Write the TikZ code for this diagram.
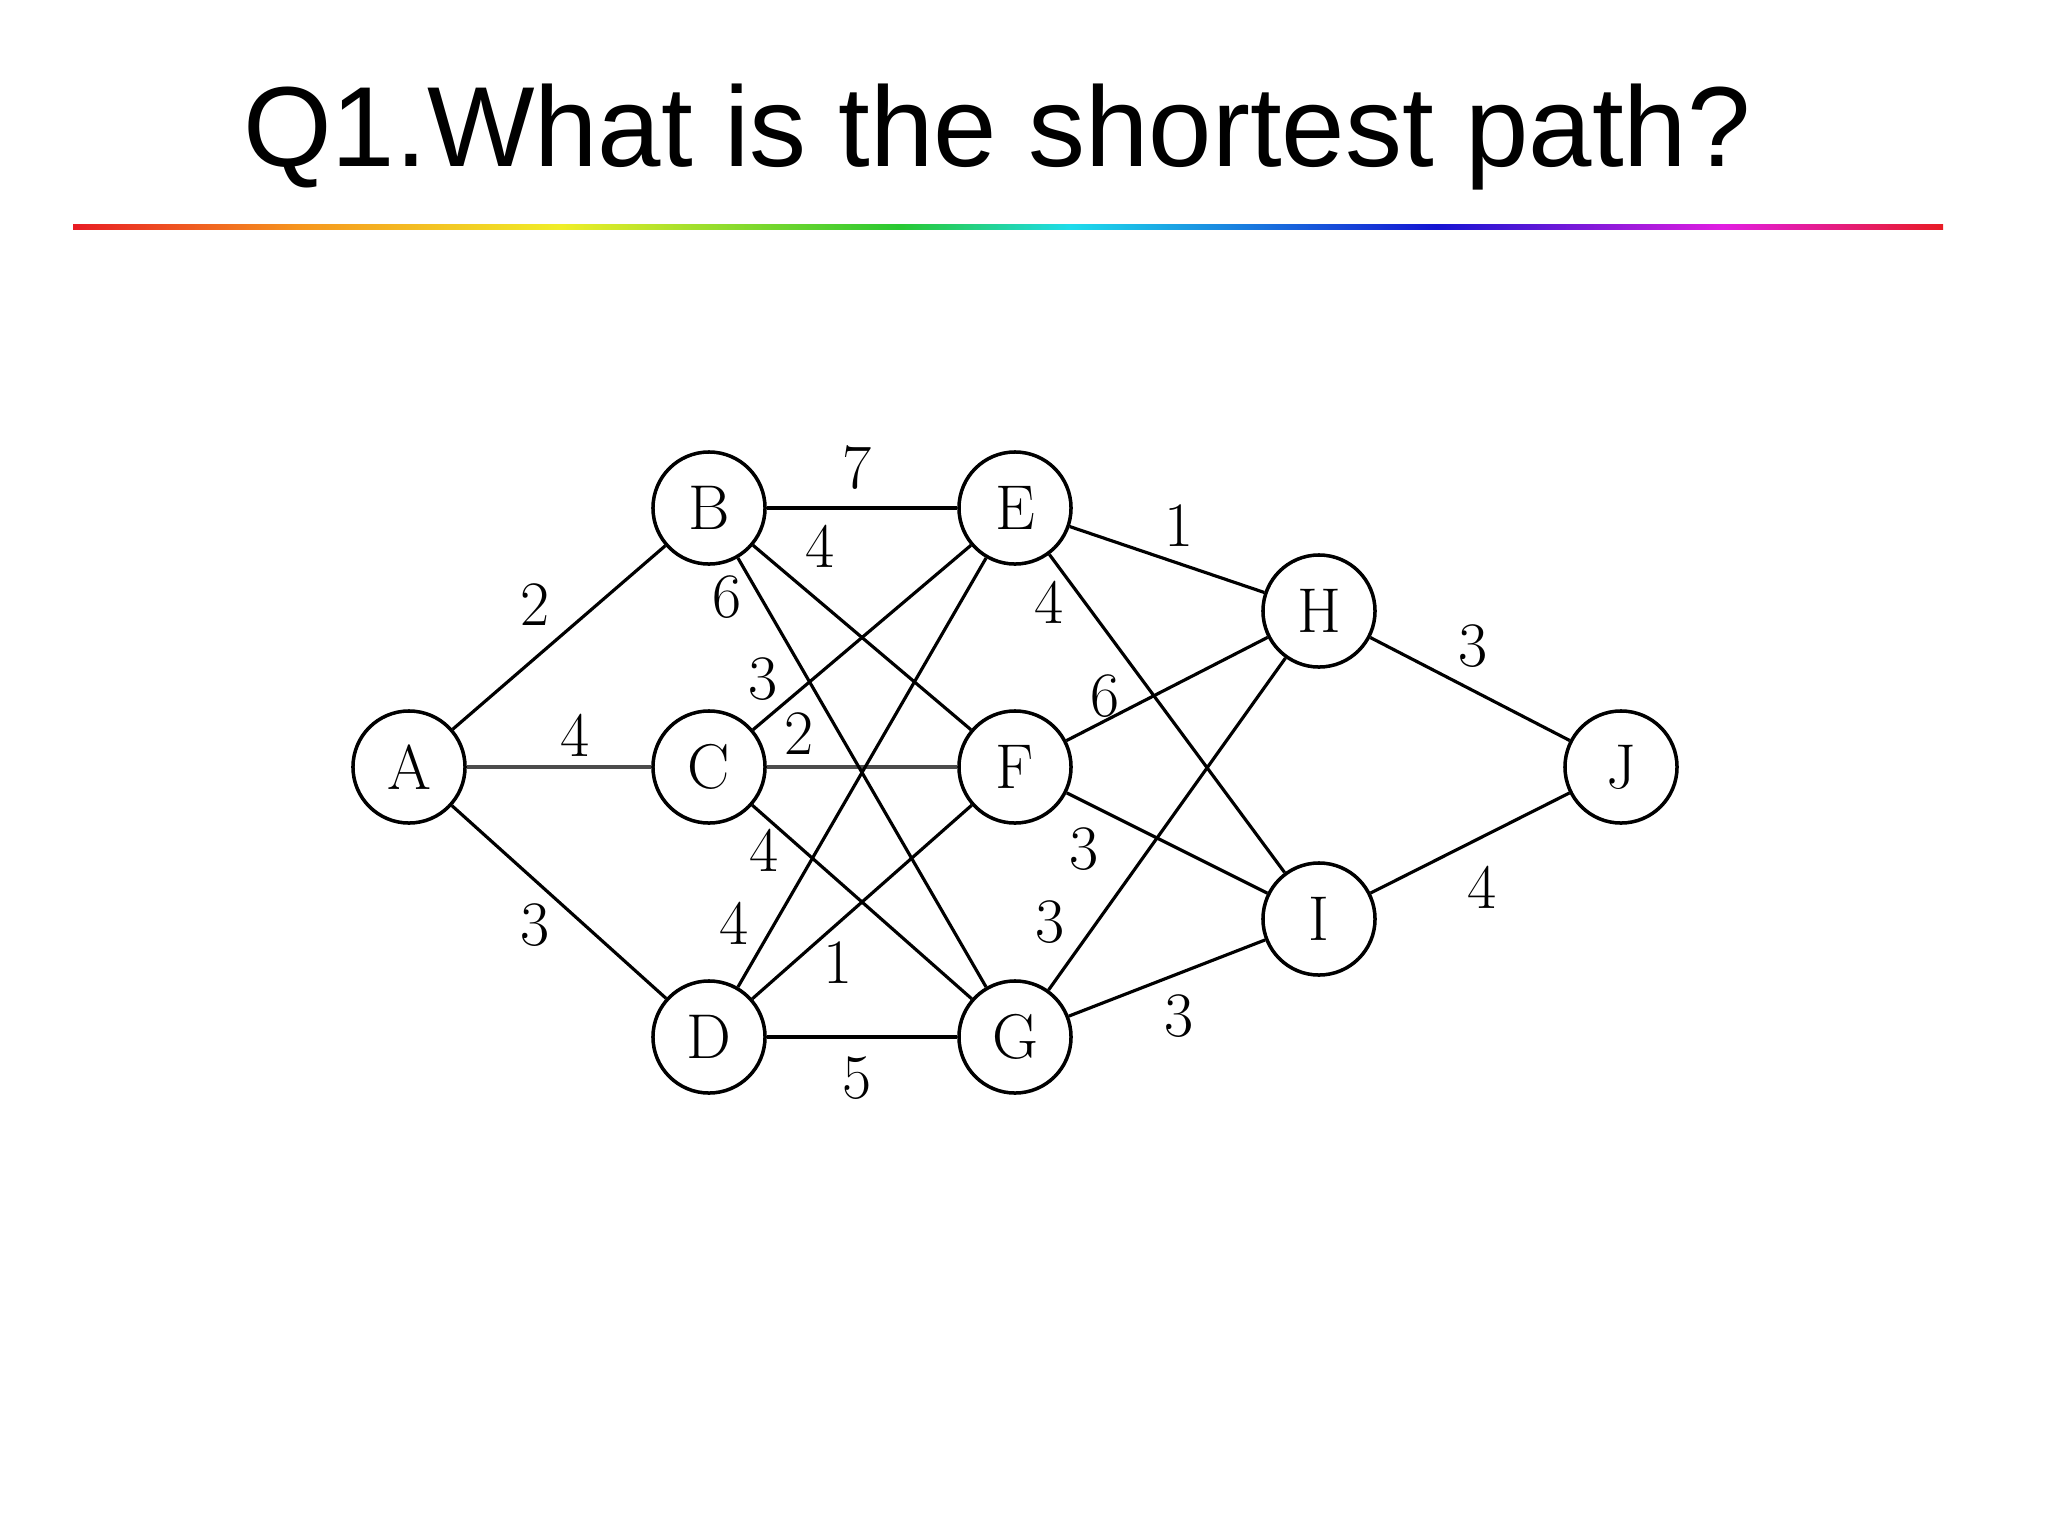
\documentclass[tikz,border=0pt]{standalone}
\usepackage{fontspec}
\newfontfamily\titlefont{Liberation Sans}
\definecolor{rbred}{RGB}{232,28,36}
\definecolor{rborange}{RGB}{246,150,30}
\definecolor{rbyellow}{RGB}{240,238,40}
\definecolor{rbgreen}{RGB}{40,200,50}
\definecolor{rbcyan}{RGB}{30,220,235}
\definecolor{rbblue}{RGB}{20,20,210}
\definecolor{rbmagenta}{RGB}{225,30,225}
\begin{document}
\begin{tikzpicture}[
x=0.01cm,y=-0.01cm,
vert/.style={%
circle,
draw,
line width=1pt,
minimum size=1.12cm,
inner sep=0pt,
font=\fontsize{18}{20}\selectfont,
},
wgt/.style={%
font=\fontsize{18}{20}\selectfont,
inner sep=0pt,
},
edge/.style={%
line width=0.9pt,
},
heavy/.style={%
line width=1.4pt,
color=black!70,
},
ttl/.style={%
font=\titlefont\fontsize{32.4}{36}\selectfont,
anchor=base,
}
]
\useasboundingbox(0,0)rectangle(2048,1536);

%title and rainbow rule
\node[ttl](title)at(997,166){Q1.What is the shortest path?};
\foreach \xa/\xb/\ca/\cb in {73/300/rbred/rborange,300/561/rborange/rbyellow,
561/900/rbyellow/rbgreen,900/1070/rbgreen/rbcyan,1070/1436/rbcyan/rbblue,
1436/1723/rbblue/rbmagenta,1723/1943/rbmagenta/rbred}
\shade[left color=\ca,right color=\cb](\xa,224)rectangle(\xb,229);

%vertices
\node[vert](A)at(409,767){A};
\node[vert](B)at(709,508){B};
\node[vert](C)at(709,767){C};
\node[vert](D)at(709,1037){D};
\node[vert](E)at(1015,508){E};
\node[vert](F)at(1015,767){F};
\node[vert](G)at(1015,1037){G};
\node[vert](H)at(1319,611){H};
\node[vert](I)at(1319,919){I};
\node[vert](J)at(1621,767){J};

%edges
\draw[heavy](A)--(C);
\draw[heavy](C)--(F);
\foreach \a/\b in {A/B,A/D,B/E,B/F,B/G,C/E,C/G,D/E,D/F,D/G,
E/H,E/I,F/H,F/I,G/H,G/I,H/J,I/J}
\draw[edge](\a)--(\b);

%weights
\node[wgt](wab)at(535,605){2};
\node[wgt](wac)at(575,735){4};
\node[wgt](wad)at(535,925){3};
\node[wgt](wbe)at(857,468){7};
\node[wgt](wbf)at(820,546){4};
\node[wgt](wbg)at(727,597){6};
\node[wgt](wce)at(763,679){3};
\node[wgt](wcf)at(799,734){2};
\node[wgt](wcg)at(764,850){4};
\node[wgt](wde)at(734,923){4};
\node[wgt](wdf)at(838,963){1};
\node[wgt](wdg)at(857,1078){5};
\node[wgt](weh)at(1179,526){1};
\node[wgt](wei)at(1049,602){4};
\node[wgt](wfh)at(1105,696){6};
\node[wgt](wfi)at(1084,849){3};
\node[wgt](wgh)at(1050,922){3};
\node[wgt](wgi)at(1179,1016){3};
\node[wgt](whj)at(1473,646){3};
\node[wgt](wij)at(1482,887){4};

\end{tikzpicture}
\end{document}
